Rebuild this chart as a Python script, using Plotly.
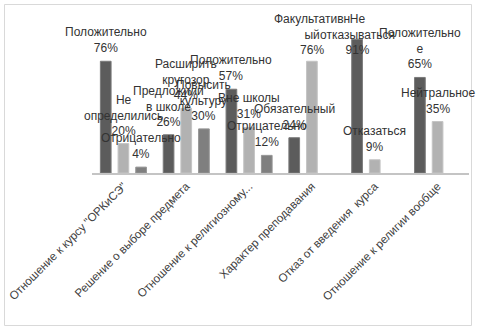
import plotly.graph_objects as go

# Survey topics (x categories)
categories = [
    "Отношение к курсу \"ОРКиСЭ\"",
    "Решение о выборе предмета",
    "Отношение к религиозному...",
    "Характер преподавания",
    "Отказ от введения  курса",
    "Отношение к религии вообще",
]

# Answer shares, %, three answer slots per topic
values_a = [76, 26, 57, 24, 91, 65]
values_b = [20, 44, 31, 76, 9, 35]
values_c = [4, 30, 12, None, None, None]

# Answer wording shown above each bar
answers_a = ["Положительно", "Предложили<br>в школе", "Положительно",
             "Обязательный", "Не<br>отказываться", "Положительно<br>е"]
answers_b = ["Не<br>определились", "Расширить<br>кругозор", "Вне школы",
             "Факультативн<br>ый", "Отказаться", "Нейтральное"]
answers_c = ["Отрицательно", "Повысить<br>культуру", "Отрицательно", None, None, None]

colors = ["#5c5c5c", "#b2b2b2", "#7f7f7f"]
edges = ["#7a7a7a", "#c4c4c4", "#969696"]

W, H = 480, 334
ML, MR, MT, MB = 92, 11, 26, 161
BARGAP, GROUPGAP = 0.156, 0.395
LABEL_SIZE = 12
LINE_H = LABEL_SIZE * 1.3
LABEL_YSHIFT = 4
CHART_TOP = 10  # highest pixel a label may reach

plot_w = W - ML - MR
plot_h = H - MT - MB
slot = plot_w / len(categories) * (1 - BARGAP) / 3

fig = go.Figure()
series = [(values_a, answers_a), (values_b, answers_b), (values_c, answers_c)]
for k, (vals, _) in enumerate(series):
    fig.add_trace(go.Bar(x=categories, y=vals, marker_color=colors[k],
                         marker_line=dict(color=edges[k], width=1), showlegend=False))

annotations = []
for k, (vals, answers) in enumerate(series):
    for cat, v, ans in zip(categories, vals, answers):
        if v is None:
            continue
        text = f"{ans}<br>{v}%"
        nlines = text.count("<br>") + 1
        bar_top_px = MT + plot_h * (1 - v / 100)
        label_top_px = bar_top_px - LABEL_YSHIFT - nlines * LINE_H - 2
        ann = dict(x=cat, xref="x", xshift=(k - 1) * slot, text=text,
                   showarrow=False, align="center",
                   font=dict(family="Liberation Sans", size=LABEL_SIZE, color="#333333"))
        if label_top_px < CHART_TOP:
            # keep the label inside the chart frame
            ann.update(y=(MT + plot_h - CHART_TOP) / plot_h, yref="paper", yanchor="top")
        else:
            ann.update(y=v, yref="y", yanchor="bottom", yshift=LABEL_YSHIFT)
        annotations.append(ann)

# light frame around the whole chart
frame = dict(type="rect", xref="paper", yref="paper",
             x0=(4.5 - ML) / plot_w, x1=(471.5 - ML) / plot_w,
             y0=(MT + plot_h - 325.5) / plot_h, y1=(MT + plot_h - 4.5) / plot_h,
             line=dict(color="#d9d9d9", width=1), fillcolor="rgba(0,0,0,0)", layer="below")

fig.update_layout(
    width=W, height=H,
    margin=dict(l=ML, r=MR, t=MT, b=MB, pad=0, autoexpand=False),
    paper_bgcolor="white", plot_bgcolor="white",
    barmode="group", bargap=BARGAP, bargroupgap=GROUPGAP,
    annotations=annotations, shapes=[frame],
    xaxis=dict(showline=True, linecolor="#c4c4c4", linewidth=2, ticks="",
               tickangle=-45, showgrid=False, automargin=False,
               range=[-0.5, len(categories) - 0.5],
               tickfont=dict(family="Liberation Sans", size=11.6, color="#404040")),
    yaxis=dict(visible=False, range=[0, 100], showgrid=False, automargin=False),
)

fig.write_html("out.html")
